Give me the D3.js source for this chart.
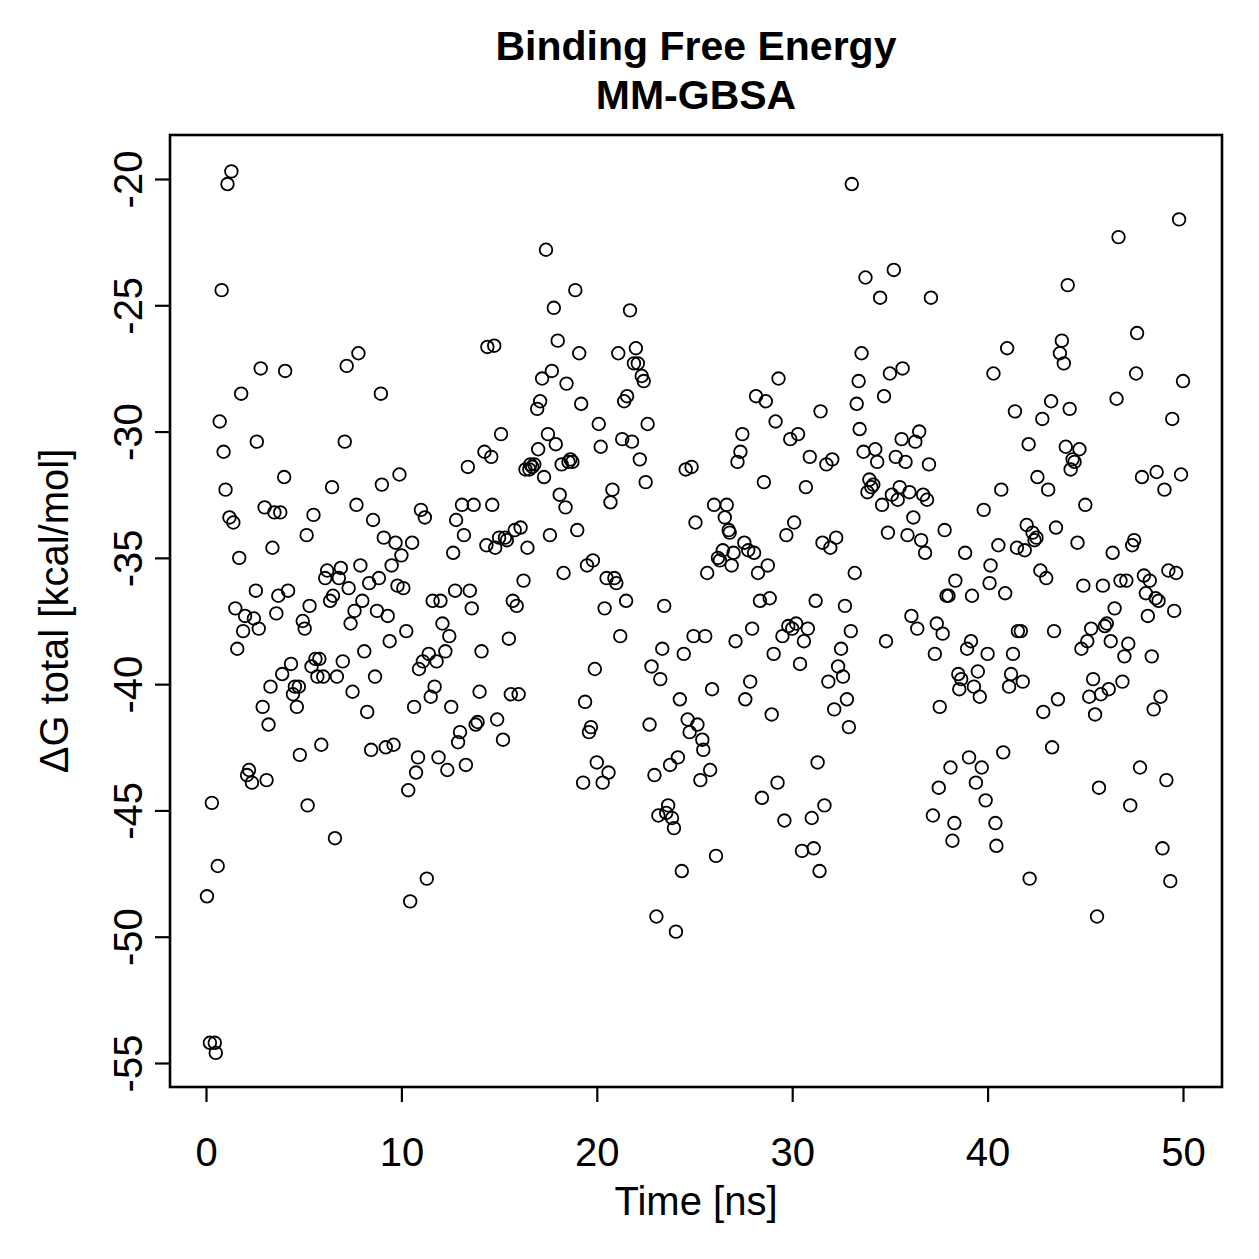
<!DOCTYPE html>
<html>
<head>
<meta charset="utf-8">
<script src="https://cdn.jsdelivr.net/npm/d3@7"></script>
<style>
  html, body { margin: 0; padding: 0; background: #fff; }
  svg { display: block; font-family: "Liberation Sans", Arial, Helvetica, sans-serif; }
</style>
</head>
<body>
<svg id="chart" width="1259" height="1259"></svg>
<script>
// ---- Data ----
const titleLines = ["Binding Free Energy", "MM-GBSA"];
const xLabel = "Time [ns]";
const yLabel = "ΔG total [kcal/mol]";
const xTicks = [0, 10, 20, 30, 40, 50];
const yTicks = [-20, -25, -30, -35, -40, -45, -50, -55];

const time0 = [0.05,0.2,0.3,0.45,0.5,0.6,0.7,0.8,0.9,1.0,
  1.1,1.2,1.3,1.4,1.5,1.6,1.7,1.8,1.9,2.0,
  2.1,2.2,2.35,2.45,2.55,2.6,2.7,2.8,2.9,3.0,
  3.1,3.2,3.3,3.4,3.5,3.6,3.7,3.8,3.9,4.0,
  4.05,4.2,4.35,4.45,4.55,4.65,4.75,4.8,4.95,5.05,
  5.15,5.2,5.3,5.4,5.5,5.6,5.7,5.8,5.9,6.0,
  6.1,6.2,6.35,6.45,6.5,6.6,6.7,6.8,6.9,7.0,
  7.1,7.2,7.3,7.4,7.5,7.6,7.7,7.8,7.9,8.0,
  8.1,8.25,8.35,8.45,8.55,8.65,8.75,8.85,8.95,9.0,
  9.1,9.2,9.3,9.4,9.5,9.6,9.7,9.8,9.9];
const dG0 = [-48.4,-54.2,-44.7,-54.2,-54.6,-47.2,-29.6,-24.4,-30.8,-32.3,
  -20.2,-33.4,-19.7,-33.6,-37.0,-38.6,-35.0,-28.5,-37.9,-37.3,
  -43.6,-43.4,-43.9,-37.4,-36.3,-30.4,-37.8,-27.5,-40.9,-33.0,
  -43.8,-41.6,-40.1,-34.6,-33.2,-37.2,-36.5,-33.2,-39.6,-31.8,
  -27.6,-36.3,-39.2,-40.4,-40.1,-40.9,-40.1,-42.8,-37.5,-37.8,
  -34.1,-44.8,-36.9,-39.3,-33.3,-39.0,-39.7,-39.0,-42.4,-39.7,
  -35.8,-35.5,-36.7,-32.2,-36.5,-46.1,-39.7,-35.8,-35.4,-39.1,
  -30.4,-27.4,-36.2,-37.6,-40.3,-37.1,-32.9,-26.9,-35.3,-36.7,
  -38.7,-41.1,-36.0,-42.6,-33.5,-39.7,-37.1,-35.8,-28.5,-32.1,
  -34.2,-42.5,-37.3,-38.3,-35.3,-42.4,-34.4,-36.1,-31.7];

const time1 = [10.0,10.1,10.25,10.35,10.45,10.55,10.65,10.75,10.85,10.9,
  11.0,11.1,11.2,11.3,11.4,11.5,11.6,11.7,11.8,11.9,
  12.0,12.1,12.25,12.35,12.45,12.55,12.65,12.75,12.8,12.9,
  13.0,13.1,13.2,13.3,13.4,13.5,13.6,13.7,13.8,13.9,
  14.0,14.1,14.25,14.35,14.4,14.6,14.65,14.75,14.8,14.9,
  15.0,15.1,15.2,15.3,15.4,15.5,15.6,15.7,15.8,15.9,
  16.0,16.1,16.25,16.35,16.45,16.55,16.6,16.7,16.8,16.95,
  17.0,17.1,17.2,17.3,17.4,17.5,17.6,17.7,17.8,17.9,
  18.0,18.1,18.2,18.3,18.4,18.45,18.55,18.65,18.75,18.9,
  19.0,19.1,19.2,19.3,19.4,19.5,19.6,19.7,19.8,19.9];
const dG1 = [-34.9,-36.2,-37.9,-44.2,-48.6,-34.4,-40.9,-43.5,-42.9,-39.4,
  -33.1,-39.1,-33.4,-47.7,-38.8,-40.5,-36.7,-40.1,-39.1,-42.9,
  -36.7,-37.6,-38.7,-43.4,-38.1,-40.9,-34.8,-36.3,-33.5,-42.3,
  -41.9,-32.9,-34.1,-43.2,-31.4,-36.3,-37.0,-32.9,-41.6,-41.5,
  -40.3,-38.7,-30.8,-34.5,-26.65,-31.0,-32.9,-26.6,-34.6,-41.4,
  -34.2,-30.1,-42.2,-34.2,-34.3,-38.2,-40.4,-36.7,-33.9,-36.9,
  -40.4,-33.8,-35.9,-31.5,-34.6,-31.5,-31.3,-31.4,-31.3,-29.1,
  -30.7,-28.8,-27.9,-31.8,-22.8,-30.1,-34.1,-27.6,-25.1,-30.5,
  -26.4,-32.5,-31.3,-35.6,-33.0,-28.1,-31.2,-31.1,-31.2,-24.4,
  -33.9,-26.9,-28.9,-43.9,-40.7,-35.3,-41.9,-41.7,-35.1,-39.4];

const time2 = [20.0,20.1,20.2,20.3,20.4,20.5,20.6,20.7,20.8,20.9,
  21.0,21.1,21.2,21.3,21.4,21.5,21.55,21.7,21.8,21.9,
  22.0,22.1,22.2,22.3,22.4,22.5,22.6,22.7,22.8,22.95,
  23.05,23.15,23.25,23.35,23.45,23.55,23.65,23.75,23.85,23.95,
  24.05,24.15,24.25,24.35,24.45,24.55,24.65,24.75,24.85,24.95,
  25.05,25.15,25.3,25.4,25.45,25.55,25.65,25.8,25.9,26.0,
  26.1,26.2,26.3,26.45,26.55,26.65,26.75,26.8,26.9,27.0,
  27.1,27.2,27.35,27.45,27.55,27.6,27.75,27.85,27.95,28.05,
  28.15,28.25,28.35,28.45,28.55,28.65,28.75,28.85,28.95,29.05,
  29.15,29.25,29.3,29.5,29.6,29.7,29.8,29.9];
const dG2 = [-43.1,-29.7,-30.6,-43.9,-37.0,-35.8,-43.5,-32.8,-32.3,-35.8,
  -36.0,-26.9,-38.1,-30.3,-28.8,-36.7,-28.6,-25.2,-30.4,-27.3,
  -26.7,-27.3,-31.1,-27.8,-28.0,-32.0,-29.7,-41.6,-39.3,-43.6,
  -49.2,-45.2,-39.8,-38.6,-36.9,-45.1,-44.8,-43.2,-45.3,-45.7,
  -49.8,-42.9,-40.6,-47.4,-38.8,-31.5,-41.4,-41.9,-31.4,-38.1,
  -33.6,-41.6,-43.8,-42.2,-42.6,-38.1,-35.6,-43.4,-40.2,-32.9,
  -46.8,-35.0,-35.1,-34.7,-33.4,-32.9,-33.9,-34.0,-35.3,-34.8,
  -38.3,-31.2,-30.8,-30.1,-34.4,-40.6,-34.7,-39.9,-37.8,-34.8,
  -28.6,-35.6,-36.7,-44.5,-32.0,-28.8,-35.3,-36.6,-41.2,-38.8,
  -29.6,-43.9,-27.9,-38.1,-45.4,-34.1,-37.7,-30.3];

const time3 = [30.0,30.1,30.2,30.3,30.4,30.5,30.6,30.7,30.8,30.9,
  31.0,31.1,31.2,31.3,31.4,31.45,31.55,31.65,31.75,31.85,
  31.95,32.05,32.15,32.25,32.35,32.5,32.6,32.7,32.8,32.9,
  33.0,33.05,33.2,33.3,33.4,33.45,33.55,33.65,33.75,33.85,
  33.95,34.05,34.15,34.25,34.35,34.5,34.6,34.7,34.8,34.9,
  35.0,35.1,35.2,35.3,35.4,35.5,35.6,35.65,35.8,35.9,
  36.0,36.1,36.2,36.3,36.4,36.5,36.6,36.7,36.8,36.9,
  37.0,37.1,37.2,37.3,37.4,37.5,37.55,37.7,37.8,37.9,
  38.0,38.1,38.2,38.3,38.35,38.5,38.55,38.65,38.85,38.95,
  39.05,39.15,39.2,39.3,39.4,39.5,39.6,39.7,39.8,39.9];
const dG3 = [-37.8,-33.6,-37.6,-30.1,-39.2,-46.6,-38.3,-32.2,-37.8,-31.0,
  -45.3,-46.5,-36.7,-43.1,-47.4,-29.2,-34.4,-44.8,-31.3,-39.9,
  -34.6,-31.1,-41.0,-34.2,-39.3,-38.6,-39.7,-36.9,-40.6,-41.7,
  -37.9,-20.2,-35.6,-28.9,-28.0,-29.9,-26.9,-30.8,-23.9,-32.4,
  -31.9,-32.2,-32.1,-30.7,-31.2,-24.7,-32.9,-28.6,-38.3,-34.0,
  -27.7,-32.5,-23.6,-31.0,-32.7,-32.2,-30.3,-27.5,-31.2,-34.1,
  -32.4,-37.3,-33.4,-30.4,-37.8,-30.0,-34.3,-32.5,-34.8,-32.7,
  -31.3,-24.7,-45.2,-38.8,-37.6,-44.1,-40.9,-38.0,-33.9,-36.5,
  -36.5,-43.3,-46.2,-45.5,-35.9,-39.6,-40.2,-39.8,-34.8,-38.6,
  -42.9,-38.3,-36.5,-40.1,-43.9,-39.5,-40.5,-43.3,-33.1,-44.6];

const time4 = [40.0,40.1,40.15,40.3,40.4,40.45,40.55,40.7,40.8,40.9,
  41.0,41.1,41.2,41.3,41.4,41.5,41.55,41.7,41.8,41.9,
  42.0,42.1,42.15,42.3,42.4,42.5,42.55,42.7,42.8,42.85,
  43.0,43.1,43.25,43.3,43.4,43.5,43.6,43.7,43.8,43.9,
  44.0,44.1,44.2,44.25,44.35,44.45,44.6,44.7,44.8,44.9,
  45.0,45.1,45.2,45.3,45.4,45.5,45.6,45.7,45.8,45.9,
  46.0,46.1,46.2,46.3,46.4,46.5,46.6,46.7,46.8,46.9,
  47.0,47.1,47.2,47.3,47.4,47.5,47.6,47.65,47.8,47.9,
  48.0,48.1,48.2,48.3,48.4,48.5,48.6,48.65,48.75,48.85,
  48.95,49.05,49.15,49.25,49.35,49.45,49.55,49.65,49.8,49.9,
  50.0];
const dG4 = [-38.8,-36.0,-35.3,-27.7,-45.5,-46.4,-34.5,-32.3,-42.7,-36.4,
  -26.7,-40.1,-39.6,-38.8,-29.2,-34.6,-37.9,-37.9,-39.9,-34.7,
  -33.7,-30.5,-47.7,-34.0,-34.3,-34.2,-31.8,-35.5,-29.5,-41.1,
  -35.8,-32.3,-28.8,-42.5,-37.9,-33.8,-40.6,-26.9,-26.4,-27.3,
  -30.6,-24.2,-29.1,-31.5,-31.1,-31.2,-34.4,-30.7,-38.6,-36.1,
  -32.9,-38.3,-40.5,-37.8,-39.8,-41.2,-49.2,-44.1,-40.4,-36.1,
  -37.7,-37.6,-40.2,-38.3,-34.8,-37.0,-28.7,-22.3,-35.9,-39.9,
  -38.9,-35.9,-38.4,-44.8,-34.5,-34.3,-27.7,-26.1,-43.3,-31.8,
  -35.7,-36.4,-37.3,-35.9,-38.9,-41.0,-36.6,-31.6,-36.7,-40.5,
  -46.5,-32.3,-43.8,-35.5,-47.8,-29.5,-37.1,-35.6,-21.6,-31.7,
  -28.0];

// ---- Build ----
const time = [].concat(time0, time1, time2, time3, time4);
const deltaG = [].concat(dG0, dG1, dG2, dG3, dG4);
const points = d3.zip(time, deltaG);

const svg = d3.select("#chart");
const box = { left: 170, right: 1222, top: 135, bottom: 1087 };
const font = "'Liberation Sans', Arial, Helvetica, sans-serif";
const plainNum = d => String(d); // ASCII hyphen-minus like the reference

const x = d3.scaleLinear().domain([0, 50]).range([206, 1183]);
const y = d3.scaleLinear().domain([-20, -55]).range([179, 1063]);

svg.append("rect").attr("width", 1259).attr("height", 1259).attr("fill", "#fff");

// points
svg.append("g")
  .selectAll("circle")
  .data(points)
  .join("circle")
  .attr("cx", d => x(d[0]))
  .attr("cy", d => y(d[1]))
  .attr("r", 6.3)
  .attr("fill", "none")
  .attr("stroke", "#000")
  .attr("stroke-width", 1.8);

// plot box
svg.append("rect")
  .attr("x", box.left).attr("y", box.top)
  .attr("width", box.right - box.left).attr("height", box.bottom - box.top)
  .attr("fill", "none").attr("stroke", "#000").attr("stroke-width", 2.6);

// x axis
const gx = svg.append("g")
  .attr("transform", `translate(0,${box.bottom})`)
  .call(d3.axisBottom(x).tickValues(xTicks).tickSize(15).tickSizeOuter(0).tickPadding(36).tickFormat(plainNum));
gx.select(".domain").remove();
gx.selectAll("line").attr("stroke", "#000").attr("stroke-width", 2.2);
gx.selectAll("text").attr("font-size", 40).attr("fill", "#000").attr("font-family", font);

// y axis
const gy = svg.append("g")
  .attr("transform", `translate(${box.left},0)`)
  .call(d3.axisLeft(y).tickValues(yTicks).tickSize(15).tickSizeOuter(0).tickFormat(plainNum));
gy.select(".domain").remove();
gy.selectAll("line").attr("stroke", "#000").attr("stroke-width", 2.2);
gy.selectAll("text")
  .attr("x", null).attr("dy", null).attr("y", 0)
  .attr("text-anchor", "middle")
  .attr("transform", "translate(-28,0) rotate(-90)")
  .attr("font-size", 40).attr("fill", "#000").attr("font-family", font);

// titles
const cx = (box.left + box.right) / 2;
svg.append("text").attr("x", cx).attr("y", 60)
  .attr("text-anchor", "middle").attr("font-weight", "bold").attr("font-size", 41)
  .text(titleLines[0]);
svg.append("text").attr("x", cx).attr("y", 109)
  .attr("text-anchor", "middle").attr("font-weight", "bold").attr("font-size", 41)
  .text(titleLines[1]);

// axis labels
svg.append("text").attr("x", cx).attr("y", 1215)
  .attr("text-anchor", "middle").attr("font-size", 40)
  .text(xLabel);
svg.append("text")
  .attr("transform", `translate(68,${(box.top + box.bottom) / 2}) rotate(-90)`)
  .attr("text-anchor", "middle").attr("font-size", 40)
  .text(yLabel);
</script>
</body>
</html>
